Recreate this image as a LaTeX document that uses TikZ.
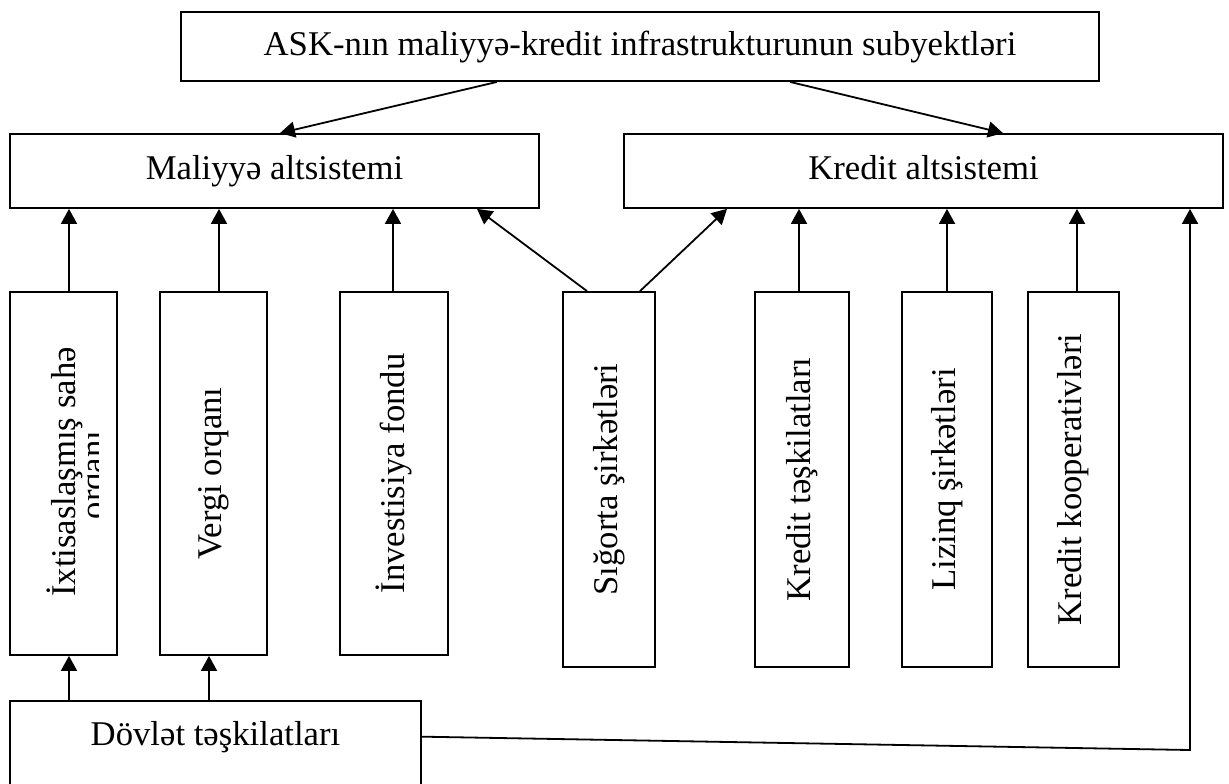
\documentclass[tikz,border=0pt]{standalone}
\usepackage{fontspec}
\setmainfont{Liberation Serif}
\usetikzlibrary{arrows.meta, fit}

\begin{document}
\begin{tikzpicture}[>={Triangle[length=7.5pt,width=8pt]}, line width=0.9pt, x=0.5pt, y=-0.5pt,
  box/.style={draw, inner sep=0pt},
  lbl/.style={font=\fontsize{17.35}{20}\selectfont},
  vlbl/.style={lbl, rotate=90}]

\useasboundingbox (0,0) rectangle (1229,783);

% Top box and the two subsystems
\node[box, fit={(181,12) (1099,81)}] (top) {};
\node[box, fit={(10,134) (539,208)}] (fin) {};
\node[box, fit={(624,134) (1223,208)}] (cred) {};
\node[lbl, anchor=base] (topT) at (top.center |- 0,55) {ASK-nın maliyyə-kredit infrastrukturunun subyektləri};
\node[lbl, anchor=base] (finT) at (fin.center |- 0,179) {Maliyyə altsistemi};
\node[lbl, anchor=base] (credT) at (cred.center |- 0,179) {Kredit altsistemi};

% Vertical boxes
\node[box, fit={(10,292) (117,655)}] (ixt) {};
\node[box, fit={(160,292) (267,655)}] (vergi) {};
\node[box, fit={(340,292) (448,655)}] (inv) {};
\node[box, fit={(563,292) (655,667)}] (sig) {};
\node[box, fit={(755,292) (849,667)}] (kt) {};
\node[box, fit={(902,292) (992,667)}] (liz) {};
\node[box, fit={(1028,292) (1119,667)}] (koop) {};

% Labels of the vertical boxes
\node[vlbl, anchor=base] (ixtA) at (75,472) {İxtisaslaşmış sahə};
\begin{scope}
  \clip (10,292) rectangle (98,655);
  \node[vlbl, anchor=base] (ixtB) at (104,475) {orqanı};
\end{scope}
\node[vlbl] (vergiT) at (vergi.center) {Vergi orqanı};
\node[vlbl] (invT) at (inv.center) {İnvestisiya fondu};
\node[vlbl] (sigT) at (sig.center) {Sığorta şirkətləri};
\node[vlbl] (ktT) at (kt.center) {Kredit təşkilatları};
\node[vlbl] (lizT) at (liz.center) {Lizinq şirkətləri};
\node[vlbl] (koopT) at (koop.center) {Kredit kooperativləri};

% State organisations (box runs off the bottom)
\node[box, fit={(10,701) (421,800)}] (dov) {};
\node[lbl, anchor=base] (dovT) at (215.5,745) {Dövlət təşkilatları};

% Arrows from the top box
\draw[->] (top.south -| 497,0) -- (fin.north -| 280,0);
\draw[->] (top.south -| 790,0) -- (cred.north -| 1003,0);

% Arrows into the subsystems
\draw[->] (ixt.north -| 69,0) -- (fin.south -| 69,0);
\draw[->] (vergi.north -| 219,0) -- (fin.south -| 219,0);
\draw[->] (inv.north -| 393,0) -- (fin.south -| 393,0);
\draw[->] (sig.north -| 587,0) -- (fin.south -| 477,0);
\draw[->] (sig.north -| 640,0) -- (cred.south -| 727,0);
\draw[->] (kt.north -| 799,0) -- (cred.south -| 799,0);
\draw[->] (liz.north -| 947,0) -- (cred.south -| 947,0);
\draw[->] (koop.north -| 1077,0) -- (cred.south -| 1077,0);

% Arrows from the state organisations
\draw[->] (dov.north -| 69,0) -- (ixt.south -| 69,0);
\draw[->] (dov.north -| 209,0) -- (vergi.south -| 209,0);
\coordinate (bend) at (1190,750);
\draw[->] (dov.east |- dovT) -- (bend) -- (bend |- cred.south);

\end{tikzpicture}
\end{document}
